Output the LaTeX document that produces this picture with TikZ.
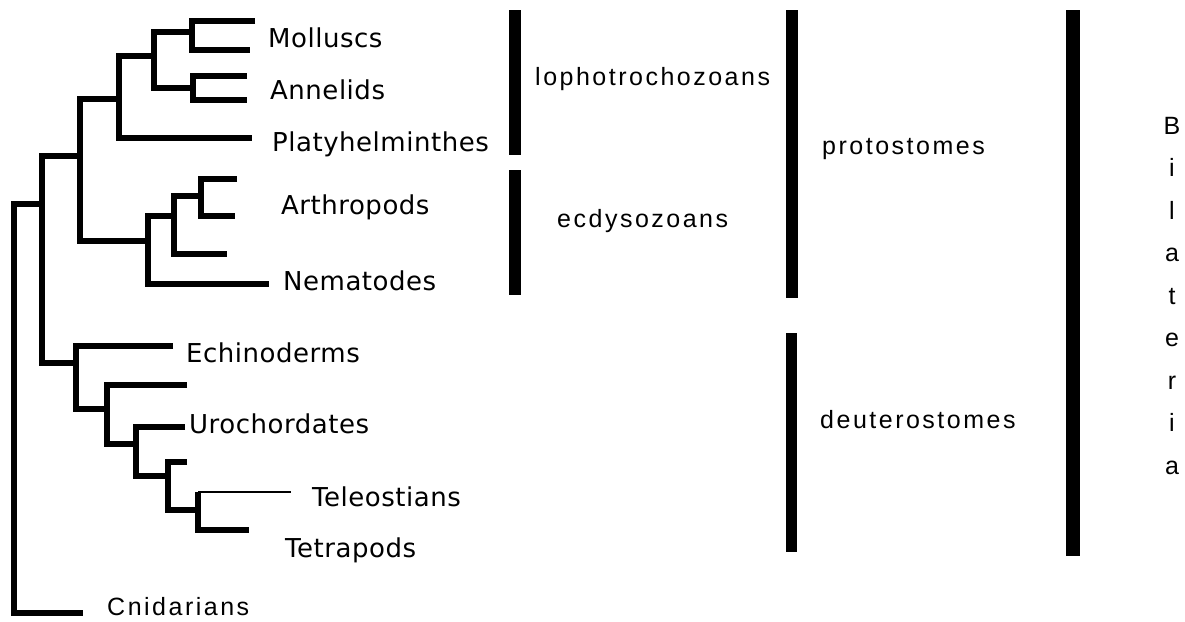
\documentclass[tikz,border=0pt]{standalone}
\usepackage{fontspec}
\setmainfont[LetterSpace=2]{DejaVu Sans}
\newfontfamily\smallf[LetterSpace=10]{Liberation Sans}
\begin{document}
\begin{tikzpicture}[x=1pt,y=-1pt,
  br/.style={line width=6pt, line join=miter},
  thinbr/.style={line width=2pt},
  lab/.style={anchor=base west, inner sep=0pt, font=\fontsize{26}{30}\selectfont},
  grp/.style={anchor=base west, inner sep=0pt, font=\smallf\fontsize{25}{30}\selectfont},
  bil/.style={anchor=base, inner sep=0pt, font=\smallf\fontsize{25}{30}\selectfont}]
\useasboundingbox (0,0) rectangle (1185,621);
\fill[white] (0,0) rectangle (1185,621);
% coordinates
\coordinate (tM1) at (255,21);
\coordinate (tM2) at (250,49.5);
\coordinate (nMol) at (191.5,32);
\coordinate (tA1) at (247,75.5);
\coordinate (tA2) at (247,100);
\coordinate (nAnn) at (192.5,87.5);
\coordinate (nA) at (153.5,55.5);
\coordinate (tPl) at (252,138);
\coordinate (nB) at (119,99);
\coordinate (tF1) at (237,179);
\coordinate (tF2) at (235,215.5);
\coordinate (nF) at (201,195.5);
\coordinate (tE) at (227,253.5);
\coordinate (nE) at (173.5,215.5);
\coordinate (tNe) at (269,284);
\coordinate (nD) at (148,241);
\coordinate (nC) at (79.5,156);
\coordinate (tEc) at (173,345.5);
\coordinate (tI) at (187,384.5);
\coordinate (tUr) at (185,427);
\coordinate (tK) at (187,462);
\coordinate (tTe) at (291,492);
\coordinate (tTt) at (249,530);
\coordinate (nLtop) at (198,492);
\coordinate (nL) at (198,509.5);
\coordinate (nK) at (168,475.5);
\coordinate (nJ) at (136,444);
\coordinate (nI) at (107,409);
\coordinate (nH) at (76,363);
\coordinate (nG) at (42,204);
\coordinate (tCn) at (83,612.5);
\coordinate (nR) at (14,400);
% tree
\draw[br] (tM1) -| (nMol) |- (tM2);
\draw[br] (tA1) -| (nAnn) |- (tA2);
\draw[br] (nMol) -| (nA) |- (nAnn);
\draw[br] (nA) -| (nB) |- (tPl);
\draw[br] (tF1) -| (nF) |- (tF2);
\draw[br] (nF) -| (nE) |- (tE);
\draw[br] (nE) -| (nD) |- (tNe);
\draw[br] (nB) -| (nC) |- (nD);
\draw[thinbr] (nLtop) -- (tTe);
\draw[br] (nLtop) -- (nL) |- (tTt);
\draw[br] (tK) -| (nK) |- (nL);
\draw[br] (tUr) -| (nJ) |- (nK);
\draw[br] (tI) -| (nI) |- (nJ);
\draw[br] (tEc) -| (nH) |- (nI);
\draw[br] (nC) -| (nG) |- (nH);
\draw[br] (nG) -| (nR) |- (tCn);
% labels
\node[lab] (mol) at (268,47) {Molluscs};
\node[lab] (ann) at (270,99) {Annelids};
\node[lab] (pla) at (272,151) {Platyhelminthes};
\node[lab] (art) at (281,214) {Arthropods};
\node[lab] (nem) at (283,290) {Nematodes};
\node[lab] (ech) at (186,362) {Echinoderms};
\node[lab] (uro) at (189,433) {Urochordates};
\node[lab] (tel) at (312,506) {Teleostians};
\node[lab] (tet) at (285,557) {Tetrapods};
\node[grp] (cni) at (107,615) {Cnidarians};
% group bars
\fill (509,10) rectangle (521,155);
\fill (509,170) rectangle (521,295);
\fill (786,10) rectangle (798,298);
\fill (786,333) rectangle (797,552);
\fill (1066,10) rectangle (1080,556);
\node[grp] (lop) at (535,85) {lophotrochozoans};
\node[grp] (ecd) at (557,227) {ecdysozoans};
\node[grp] (pro) at (822,154) {protostomes};
\node[grp] (deu) at (820,428) {deuterostomes};
% Bilateria
\node[bil] (b1) at (1172,134) {B};
\node[bil] (b2) at (1172,176.5) {i};
\node[bil] (b3) at (1172,219) {l};
\node[bil] (b4) at (1172,261.5) {a};
\node[bil] (b5) at (1172,304) {t};
\node[bil] (b6) at (1172,346.5) {e};
\node[bil] (b7) at (1172,389) {r};
\node[bil] (b8) at (1172,431.5) {i};
\node[bil] (b9) at (1172,474) {a};
\end{tikzpicture}
\end{document}
